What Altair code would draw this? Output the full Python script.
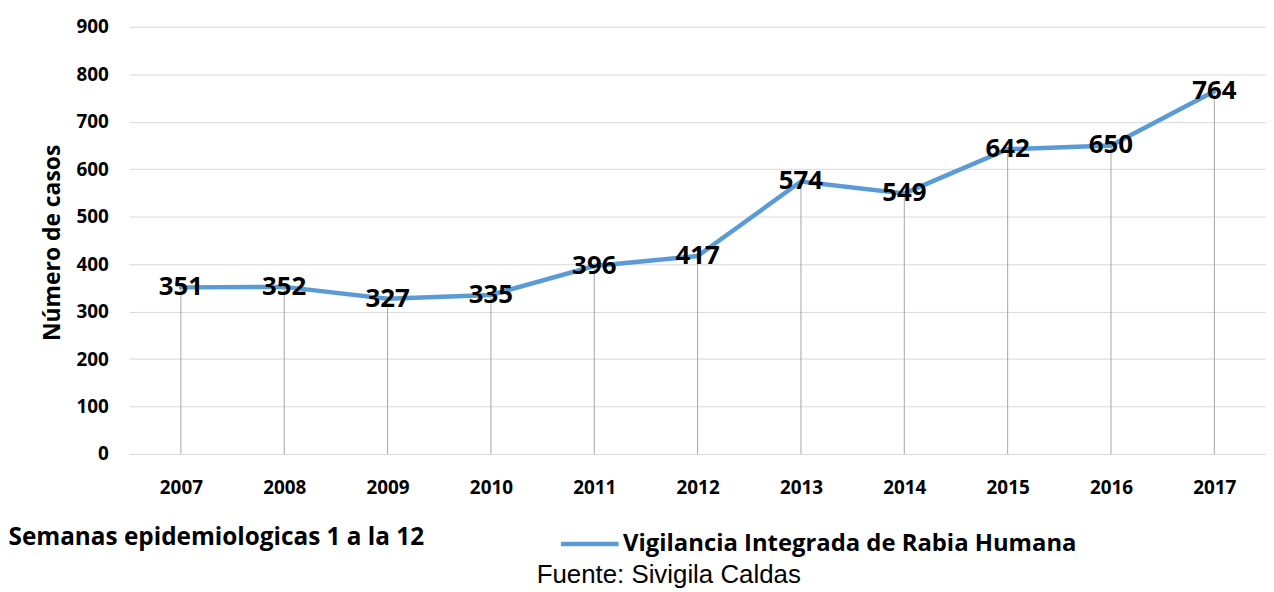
import altair as alt
import pandas as pd

years = ["2007", "2008", "2009", "2010", "2011", "2012", "2013", "2014", "2015", "2016", "2017"]
casos = [351, 352, 327, 335, 396, 417, 574, 549, 642, 650, 764]
serie = "Vigilancia Integrada de Rabia Humana"
y_ticks = [0, 100, 200, 300, 400, 500, 600, 700, 800, 900]

df = pd.DataFrame({"year": years, "casos": casos, "serie": [serie] * len(years)})

FONT = "Open Sans"
LINE_COLOR = "#5B9BD5"

x_enc = alt.X("year:O", sort=years, title="Semanas epidemiologicas 1 a la 12",
              scale=alt.Scale(type="point", padding=0.5),
              axis=alt.Axis(labelAngle=0, ticks=False, domain=False, grid=False,
                            labelFont=FONT, labelFontSize=19, labelFontWeight="bold",
                            labelColor="#000000", labelPadding=25,
                            titleFont=FONT, titleFontSize=24.5, titleFontWeight="bold",
                            titleColor="#000000", titleAnchor="start", titleAlign="left",
                            titleBaseline="middle", titleX=-122, titleY=84))
y_enc = alt.Y("casos:Q", title="Número de casos",
              scale=alt.Scale(domain=[0, 900], nice=False),
              axis=alt.Axis(values=y_ticks, ticks=False, domain=False, grid=True,
                            gridColor="#D9D9D9", gridWidth=1,
                            labelFont=FONT, labelFontSize=19, labelFontWeight="bold",
                            labelColor="#000000", labelPadding=21,
                            titleFont=FONT, titleFontSize=23, titleFontWeight="bold",
                            titleColor="#000000", titleBaseline="middle",
                            titleX=-77, titleY=217))

base = alt.Chart(df)

drops = base.mark_rule(color="#A6A6A6", strokeWidth=1).encode(
    x=x_enc, y=y_enc, y2=alt.datum(0))

line = base.mark_line(strokeWidth=4.5, strokeCap="round").encode(
    x=x_enc, y=y_enc,
    color=alt.Color("serie:N", scale=alt.Scale(range=[LINE_COLOR]),
                    legend=alt.Legend(orient="none", legendX=432, legendY=489, title=None,
                                      symbolType="stroke", symbolSize=3364,
                                      symbolStrokeWidth=4.5, symbolStrokeColor=LINE_COLOR,
                                      labelFont=FONT, labelFontSize=24, labelFontWeight="bold",
                                      labelColor="#000000", labelOffset=2, labelLimit=0)))

labels = base.mark_text(font=FONT, fontSize=26, fontWeight="bold", color="#000000",
                        baseline="middle", align="center").encode(
    x=x_enc, y=y_enc, text="casos:Q")

fuente = alt.Chart(pd.DataFrame({"t": ["Fuente: Sivigila Caldas"]})).mark_text(
    font="Liberation Sans", fontSize=26, color="#000000", align="left", baseline="middle"
).encode(text="t:N", x=alt.value(410), y=alt.value(552))

chart = alt.layer(drops, line, labels, fuente).properties(
    width=1144, height=430,
    autosize=alt.AutoSizeParams(type="none"),
    padding={"left": 122, "top": 17, "right": 0, "bottom": 135},
    background="#FFFFFF",
).configure_view(stroke=None)

chart.save("out.html", embed_options={"renderer": "svg", "actions": False})
